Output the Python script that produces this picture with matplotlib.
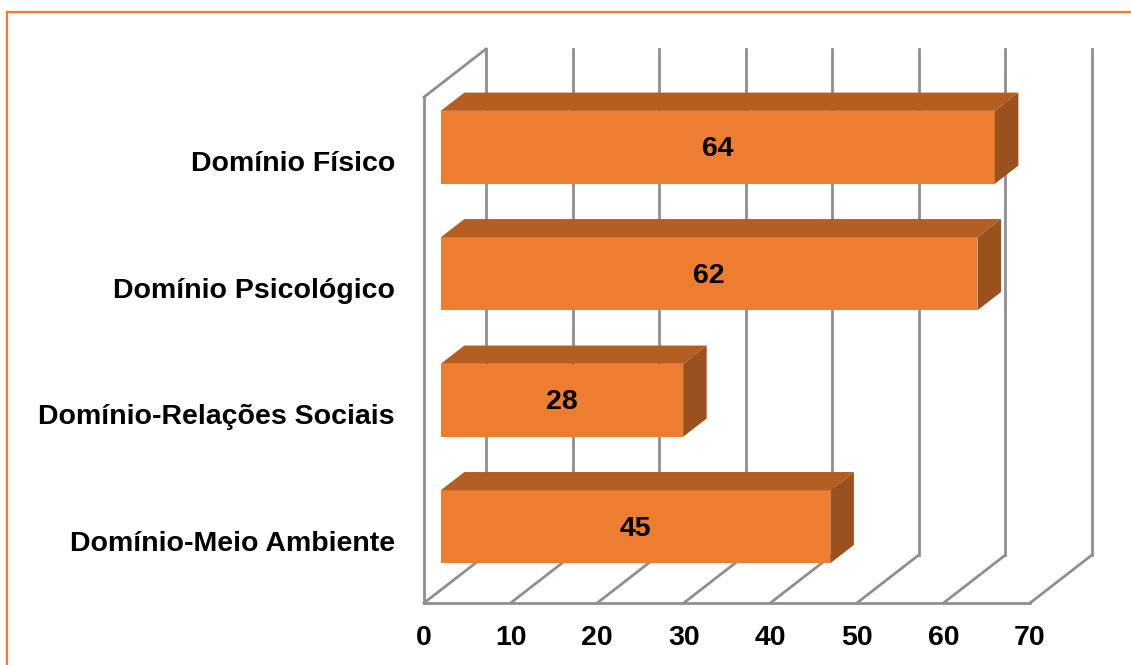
import matplotlib
matplotlib.use("Agg")
import matplotlib.pyplot as plt
from matplotlib.patches import Polygon
from matplotlib.lines import Line2D

# --- Données ---
categorias = ["Domínio Físico", "Domínio Psicológico",
              "Domínio-Relações Sociais", "Domínio-Meio Ambiente"]
valores = [64, 62, 28, 45]
ticks_x = [0, 10, 20, 30, 40, 50, 60, 70]

# --- Style ---
plt.rcParams["font.family"] = ["Liberation Sans", "DejaVu Sans"]
plt.rcParams["font.weight"] = "bold"
laranja = "#ED7D31"
topo = "#B55E22"
lado = "#9A511E"
cinza = "#8F8F8F"
fs = 20.5

W, H = 1131, 665
fig = plt.figure(figsize=(W / 100, H / 100), dpi=100)

# profondeur 3D en unités de données
DX, DY = 7.16, 0.38
d0, d1 = 0.27, 0.65          # position de la barre dans la profondeur
h_barre = 0.577
xmax = ticks_x[-1]
n = len(categorias)
px_x, px_y = 8.657, 126.5    # pixels par unité

# axes : x=0 -> px 424, y=0 -> px 603 (depuis le haut)
left, right = 424 / W, (1030 + 62) / W
bottom, top = (H - 603) / H, (H - 49) / H
ax = fig.add_axes([left, bottom, right - left, top - bottom])
ax.set_xlim(0, xmax + DX)
ax.set_ylim(0, n + DY)
ax.axis("off")

lw = 2.0
# mur du fond : lignes verticales
for t in ticks_x:
    ax.plot([t + DX, t + DX], [DY, n + DY], color=cinza, lw=lw, clip_on=False, zorder=1)
    # diagonales du sol
    ax.plot([t, t + DX], [0, DY], color=cinza, lw=lw, clip_on=False, zorder=1)
# ligne avant du sol
ax.plot([0, xmax], [0, 0], color=cinza, lw=lw, clip_on=False, zorder=1)
# mur gauche
ax.plot([0, 0], [0, n], color=cinza, lw=lw, clip_on=False, zorder=1)
ax.plot([0, DX], [n, n + DY], color=cinza, lw=lw, clip_on=False, zorder=1)

# barres 3D
for i, (cat, v) in enumerate(zip(categorias, valores)):
    c = n - 1 - i + 0.5
    x0, y0 = d0 * DX, c + d0 * DY - h_barre / 2
    x1, y1 = x0 + v, y0 + h_barre
    ox, oy = (d1 - d0) * DX, (d1 - d0) * DY
    face = Polygon([(x0, y0), (x1, y0), (x1, y1), (x0, y1)],
                   closed=True, facecolor=laranja, edgecolor="none", zorder=3)
    dessus = Polygon([(x0, y1), (x1, y1), (x1 + ox, y1 + oy), (x0 + ox, y1 + oy)],
                     closed=True, facecolor=topo, edgecolor="none", zorder=3)
    cote = Polygon([(x1, y0), (x1 + ox, y0 + oy), (x1 + ox, y1 + oy), (x1, y1)],
                   closed=True, facecolor=lado, edgecolor="none", zorder=3)
    for p in (face, dessus, cote):
        p.set_clip_on(False)
        ax.add_patch(p)
    ax.text((x0 + x1) / 2, (y0 + y1) / 2 - 2 / px_y, str(v), ha="center", va="center",
            fontsize=fs, fontweight="bold", color="black", zorder=4)
    # libellé de catégorie
    ax.text(-29 / px_x, c - 4 / px_y, cat, ha="right", va="center",
            fontsize=fs, fontweight="bold", color="black")

# étiquettes de l'axe x
for t in ticks_x:
    ax.text(t, -35 / px_y, str(t), ha="center", va="center",
            fontsize=fs, fontweight="bold", color="black")

# cadre orange
fig.add_artist(Line2D([7 / W, 1], [1 - 12 / H, 1 - 12 / H], color=laranja, lw=1.6,
                      transform=fig.transFigure))
fig.add_artist(Line2D([7 / W, 7 / W], [0, 1 - 12 / H], color=laranja, lw=1.6,
                      transform=fig.transFigure))

fig.savefig("out.png", dpi=100)
